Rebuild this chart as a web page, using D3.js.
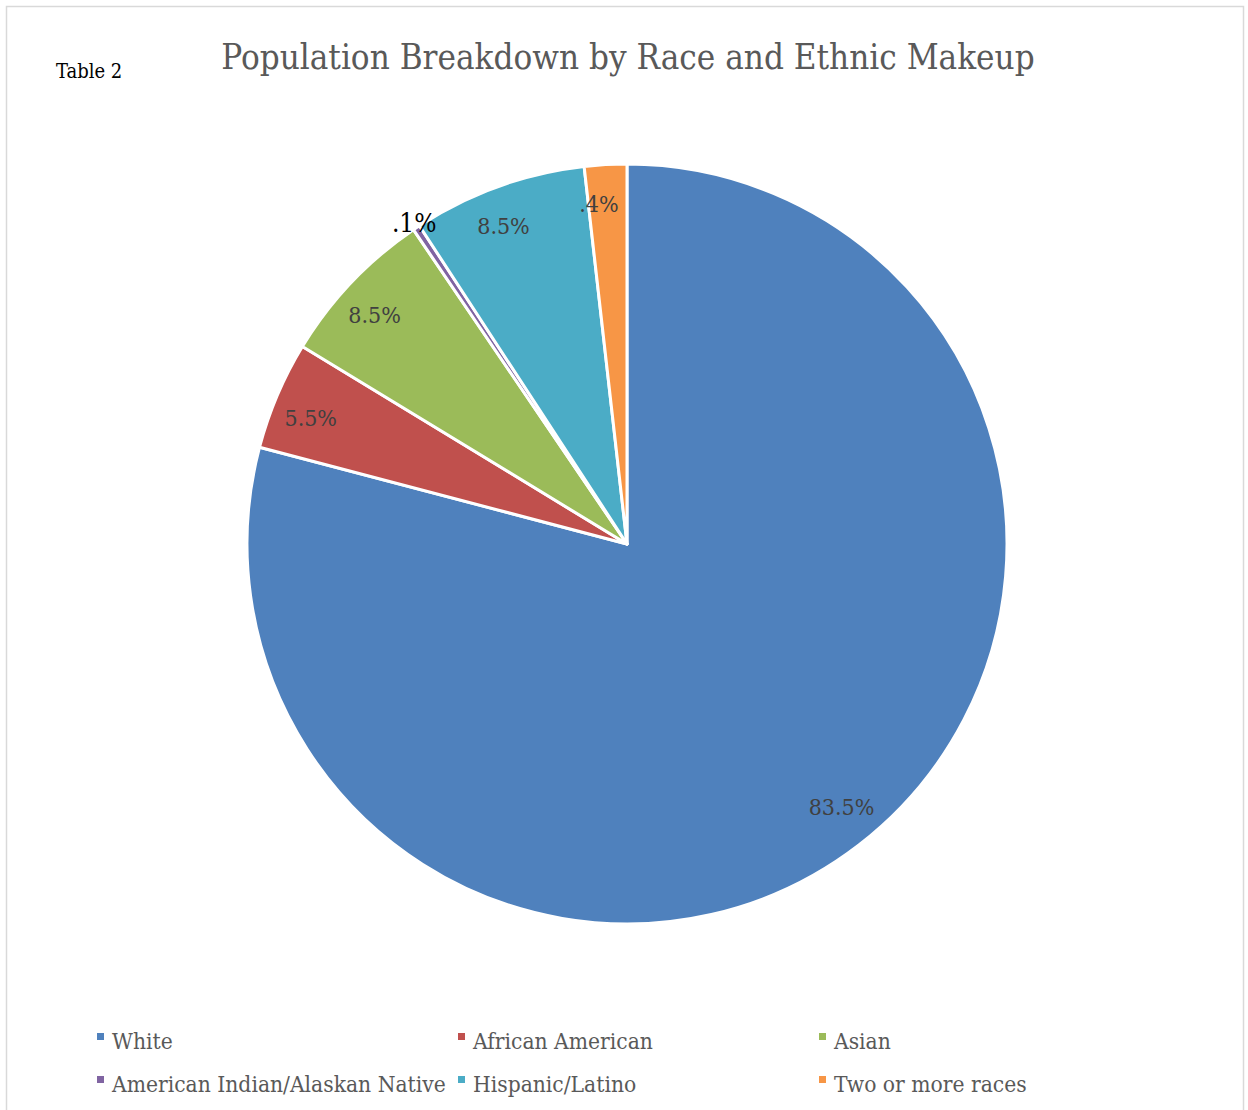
<!DOCTYPE html>
<html><head><meta charset="utf-8">
<script src="https://cdn.jsdelivr.net/npm/d3@7"></script>
<style>body{margin:0;background:#fff}svg{display:block}</style>
</head><body>
<script>
const categories = ["White","African American","Asian","American Indian/Alaskan Native","Hispanic/Latino","Two or more races"];
const values = [79.1, 4.6, 6.8, 0.3, 7.4, 1.8];
const dataLabels = ["83.5%","5.5%","8.5%",".1%","8.5%",".4%"];
const colors = ["#4F81BD","#C0504D","#9BBB59","#8064A2","#4BACC6","#F79646"];

const W = 1248, H = 1110;
const font = "'DejaVu Serif Condensed','DejaVu Serif',serif";
const svg = d3.select("body").append("svg").attr("width", W).attr("height", H);

svg.append("rect").attr("x",6.5).attr("y",6.5).attr("width",1237).attr("height",1120)
  .attr("fill","#fff").attr("stroke","#d9d9d9").attr("stroke-width",1.5);

svg.append("text").attr("x",56).attr("y",78).attr("font-family",font)
  .attr("font-size",20).attr("fill","#000").text("Table 2");

svg.append("text").attr("x",628).attr("y",69).attr("text-anchor","middle")
  .attr("font-family",font).attr("font-size",34.7).attr("fill","#595959")
  .text("Population Breakdown by Race and Ethnic Makeup");

const cx = 627, cy = 544, R = 380;
const pie = d3.pie().sort(null).value(d => d.v);
const arcs = pie(categories.map((c,i)=>({c, v: values[i], l: dataLabels[i], col: colors[i]})));
const arc = d3.arc().innerRadius(0).outerRadius(R);
const g = svg.append("g").attr("transform",`translate(${cx},${cy})`);
g.selectAll("path").data(arcs).join("path")
  .attr("d", arc).attr("fill", d=>d.data.col)
  .attr("stroke","#fff").attr("stroke-width",3).attr("stroke-linejoin","round");

const shift = -1.5 * Math.PI / 180;
const labArc = d3.arc().innerRadius(340).outerRadius(340);
const outArc = d3.arc().innerRadius(384).outerRadius(384);
g.selectAll("text.lab").data(arcs).join("text").attr("class","lab")
  .attr("transform", d => {
    const small = d.data.v < 1;
    const a = small ? d : {startAngle: d.startAngle + shift, endAngle: d.endAngle + shift};
    const p = (small ? outArc : labArc).centroid(a);
    return `translate(${p[0]},${p[1]})`;
  })
  .attr("text-anchor","middle").attr("dy","0.3em")
  .attr("font-family",font)
  .attr("font-size", d => d.data.v < 1 ? 26 : 23)
  .attr("fill", d => d.data.v < 1 ? "#000" : "#404040")
  .text(d => d.data.l);

const colX = [97, 458, 819], rowY = [1041, 1084];
const lg = svg.append("g");
categories.forEach((c,i) => {
  const x = colX[i%3], y = rowY[Math.floor(i/3)];
  lg.append("rect").attr("x",x).attr("y",y-8).attr("width",7).attr("height",7).attr("fill",colors[i]);
  lg.append("text").attr("x",x+15).attr("y",y+8).attr("font-family",font)
    .attr("font-size",22.6).attr("fill","#595959").text(c);
});
</script>
</body></html>
